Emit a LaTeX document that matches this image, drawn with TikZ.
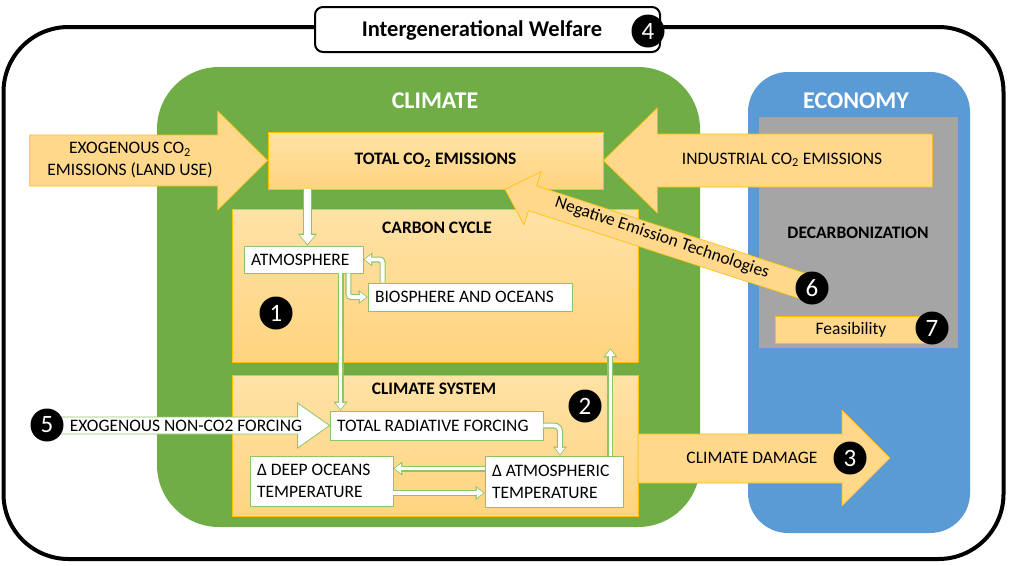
\documentclass[tikz,border=0pt]{standalone}
\usepackage{fontspec}
\setmainfont{Carlito}
\usetikzlibrary{arrows.meta,calc}

\definecolor{climgreen}{HTML}{70AD47}
\definecolor{econblue}{HTML}{5B9BD5}
\definecolor{decgray}{HTML}{A5A5A5}
\definecolor{arroworange}{HTML}{FFD88C}
\definecolor{boxtop}{HTML}{FFE2A6}
\definecolor{boxbot}{HTML}{FFD47F}
\definecolor{boxedge}{HTML}{FFC000}
\definecolor{flowgreen}{HTML}{8FC46A}

\newcommand{\lblfont}{\fontsize{17.5}{22}\selectfont}

\tikzset{
  lbl/.style={font=\lblfont, inner sep=0pt},
  ttl/.style={font=\lblfont\bfseries, inner sep=0pt},
  head/.style={font=\fontsize{24}{28}\selectfont\bfseries, text=white, inner sep=0pt},
  panel/.style={draw=boxedge, line width=0.6pt, top color=boxtop, bottom color=boxbot, minimum width=406pt, inner sep=0pt},
  whitebox/.style={draw=flowgreen, line width=0.8pt, fill=white, font=\lblfont, align=flush left, inner xsep=7pt, inner ysep=0pt},
  bigarrow/.style={draw=boxedge, line width=0.6pt, fill=arroworange},
  hollowarrow/.style={draw=flowgreen, line width=0.8pt, fill=white},
  badge/.style={circle, fill=black, text=white, minimum size=33pt, inner sep=0pt, font=\fontsize{25}{25}\selectfont},
  flow/.style={line width=6pt, draw=flowgreen, -{Triangle[length=9pt,width=14pt,line width=0pt]},
    postaction={draw=white, line width=3.8pt, -{Triangle[length=6.5pt,width=10pt,line width=0pt]}, shorten >=1.3pt}},
  flowwide/.style={line width=9pt, draw=flowgreen, -{Triangle[length=12pt,width=19pt,line width=0pt]},
    postaction={draw=white, line width=6.8pt, -{Triangle[length=9pt,width=15pt,line width=0pt]}, shorten >=1.5pt}}
}

\begin{document}
\begin{tikzpicture}[x=1pt, y=-1pt]
  \useasboundingbox (0,0) rectangle (1009,565);

  % Outer frame
  \draw[line width=4pt, rounded corners=65pt, fill=white] (3.5,27) rectangle (1003.5,559);

  % Intergenerational welfare
  \node[draw, line width=2pt, rounded corners=8pt, fill=white, minimum width=345pt, minimum height=45pt] (welfare) at (487.5,29.5) {};
  \node[ttl, font=\fontsize{22.5}{26}\selectfont\bfseries] (welfaretxt) at (482,30) {Intergenerational Welfare};

  % Climate and economy blocks
  \fill[climgreen, rounded corners=62pt] (157,67) rectangle (700,527);
  \node[head] (climate) at (435,101) {CLIMATE};
  \fill[econblue, rounded corners=40pt] (748,72) rectangle (970,533);
  \node[head] (economy) at (856,101) {ECONOMY};
  \fill[decgray] (759,117) rectangle (958,348);
  \node[ttl] (decarb) at (858,233) {DECARBONIZATION};
  \node[bigarrow, lbl, minimum width=152pt, minimum height=27pt] (feas) at (851,329.5) {Feasibility};

  % Total emissions
  \node[panel, minimum width=335pt, minimum height=57pt, font=\lblfont\bfseries] (total) at (435.5,160.5) {TOTAL CO\textsubscript{2} EMISSIONS};

  % Industrial emissions (from the economy)
  \begin{scope}[shift={(total.east)}]
    \draw[bigarrow] (0,0) -- (54,-52.5) -- (54,-26.5) -- (329,-26.5) -- (329,26.5) -- (54,26.5) -- (54,52.5) -- cycle;
  \end{scope}
  \node[lbl] (indco2) at (782,160) {INDUSTRIAL CO\textsubscript{2} EMISSIONS};

  % Land use emissions
  \begin{scope}[shift={(total.west)}]
    \draw[bigarrow] (0,0) -- (-50,-49.5) -- (-50,-25.5) -- (-238,-25.5) -- (-238,25.5) -- (-50,25.5) -- (-50,49.5) -- cycle;
  \end{scope}
  \node[lbl, align=center] (exoco2) at (130,160) {EXOGENOUS CO\textsubscript{2}\\EMISSIONS (LAND USE)};

  % Carbon cycle
  \node[panel, minimum height=153pt] (ccycle) at (435,285.5) {};
  \node[ttl] (cctitle) at (437,228) {CARBON CYCLE};
  \node[whitebox, text width=105pt, minimum height=27pt] (atm) at (303.5,259.5) {ATMOSPHERE};
  \node[whitebox, text width=190pt, minimum height=28pt] (bio) at (470,297) {BIOSPHERE AND OCEANS};

  % Climate system
  \node[panel, minimum height=141pt] (csys) at (435,446) {};
  \node[ttl] (cstitle) at (434,389) {CLIMATE SYSTEM};
  \node[whitebox, text width=199pt, minimum height=29pt] (trf) at (436.5,425.5) {TOTAL RADIATIVE FORCING};
  \node[whitebox, text width=124pt, minimum height=51pt] (datm) at (554,481.5) {Δ ATMOSPHERIC\\TEMPERATURE};
  \node[whitebox, text width=129pt, minimum height=50pt] (ddeep) at (321.5,481) {Δ DEEP OCEANS\\TEMPERATURE};

  % Flows inside the climate block
  \coordinate (atmin) at ([xshift=4pt]atm.north);
  \draw[flowwide] (atmin |- total.south) -- (atmin);
  \draw[flow, rounded corners=3pt] ([xshift=-15pt]atm.south east) |- (bio.west);
  \draw[flow, rounded corners=3pt] ([xshift=15pt]bio.north west) |- (atm.east);
  \coordinate (atmout) at ([xshift=37pt]atm.south);
  \draw[flow] (atmout) -- (atmout |- trf.north);
  \draw[flow, rounded corners=6pt] (trf.east) -| ([xshift=6pt]datm.north);
  \coordinate (toocean) at ([yshift=13pt]datm.west);
  \draw[flow] (toocean) -- (toocean -| ddeep.east);
  \coordinate (fromocean) at ([yshift=-12pt]ddeep.east);
  \draw[flow] (fromocean) -- (fromocean -| datm.west);
  \coordinate (feedback) at ([xshift=-13pt]datm.north east);
  \coordinate (feedbase) at (feedback |- ccycle.south);
  \draw[flow] (feedback) -- ([yshift=14pt]feedbase);

  % Non-CO2 forcing
  \begin{scope}[shift={(trf.west)}]
    \draw[hollowarrow] (0,0) -- (-32,-22.5) -- (-32,-8.5) -- (-280,-8.5) -- (-280,8.5) -- (-32,8.5) -- (-32,22.5) -- cycle;
  \end{scope}
  \node[lbl] (nonco2) at (186,425.5) {EXOGENOUS NON-CO2 FORCING};

  % Climate damage
  \begin{scope}[shift={(638,458)}]
    \draw[bigarrow] (0,-24) -- (204,-24) -- (204,-48) -- (252,0) -- (204,48) -- (204,25) -- (0,25) -- cycle;
  \end{scope}
  \node[lbl] (damage) at (752,458) {CLIMATE DAMAGE};

  % Negative emission technologies
  \coordinate (nettip) at ([xshift=69.5pt]total.south);
  \begin{scope}[shift={(nettip)}, rotate=-18]
    \draw[bigarrow] (0,0) -- (29,-28) -- (29,-13) -- (318,-13) -- (318,13) -- (29,13) -- (29,28) -- cycle;
  \end{scope}
  \node[lbl, rotate=-18.5] (net) at (662,238) {Negative Emission Technologies};

  % Numbers
  \node[badge] (n1) at (276,313) {1};
  \node[badge] (n2) at (585,406) {2};
  \node[badge] (n3) at (850,458) {3};
  \node[badge] (n4) at (648,31) {4};
  \node[badge] (n5) at (47,425) {5};
  \node[badge] (n6) at (812,288) {6};
  \node[badge] (n7) at (932,328) {7};
\end{tikzpicture}
\end{document}
